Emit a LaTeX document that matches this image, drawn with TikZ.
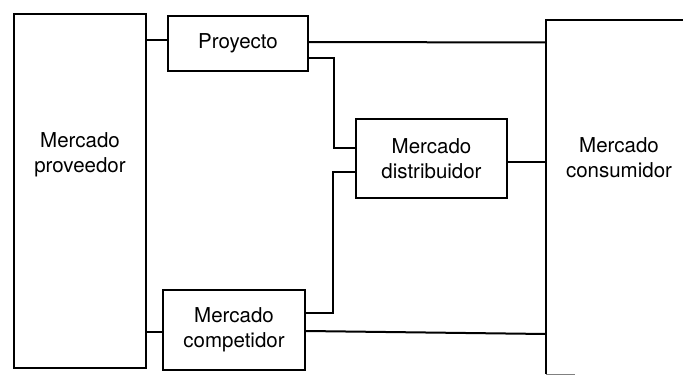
\documentclass[tikz,border=0pt]{standalone}
\usepackage{fontspec}
\setmainfont{TeX Gyre Heros}
\begin{document}
\begin{tikzpicture}[x=1pt,y=-1pt,
  line width=2pt, line join=miter,
  boxnode/.style={draw, line width=2pt, inner sep=0pt, align=center, font=\fontsize{20.5}{25}\selectfont},
  txt/.style={inner sep=0pt, align=center, font=\fontsize{20.5}{25}\selectfont},
  link/.style={draw, line width=2pt}]
\useasboundingbox (0,0) rectangle (683,375);
% boxes
\node[boxnode, minimum width=132pt, minimum height=354pt] (prov) at (80,191) {};
\node[txt] (provT) at (80,155) {Mercado\\proveedor};
\node[boxnode, minimum width=140pt, minimum height=55pt] (proy) at (238,43.5) {Proyecto};
\node[boxnode, minimum width=151pt, minimum height=79pt] (dist) at (431.5,158.5) {Mercado\\distribuidor};
\node[boxnode, minimum width=142pt, minimum height=80pt] (comp) at (234,330) {Mercado\\competidor};
% consumidor (open box)
\coordinate (cTR) at (683,20);
\coordinate (cTL) at (546,20);
\coordinate (cBL) at (546,374);
\coordinate (cBR) at (575,374);
\draw (cTR) -- (cTL) -- (cBL);
\draw[gray, line width=0.8pt] (cBL) -- (cBR);
\node[txt] (cons) at (619,158) {Mercado\\consumidor};
% connectors
\draw[link] (prov.east |- 0,40) -- (proy.west |- 0,40);
\draw[link] (proy.east |- 0,42) -- (cTL |- 0,42.5);
\draw[link] (proy.east |- 0,58) -- (334,58) -- (334,148) -- (dist.west |- 0,148);
\draw[link] (dist.west |- 0,172) -- (333,172) -- (333,313) -- (comp.east |- 0,313);
\draw[link] (dist.east |- 0,162) -- (cTL |- 0,162);
\draw[link] (prov.east |- 0,332) -- (comp.west |- 0,332);
\draw[link] (comp.east |- 0,331) -- (cTL |- 0,334);
\end{tikzpicture}
\end{document}
